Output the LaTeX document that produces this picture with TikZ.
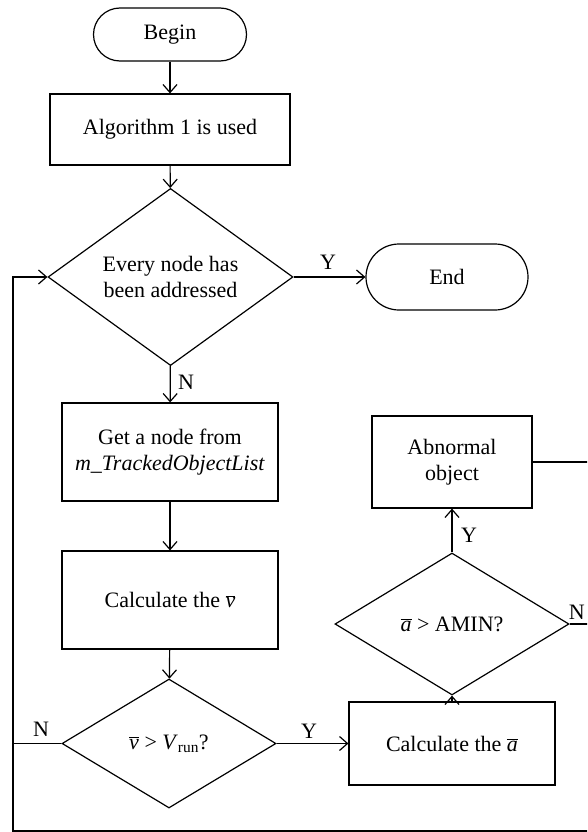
\documentclass[tikz,border=0pt]{standalone}
\usepackage{fontspec}
\setmainfont{Liberation Serif}
\usetikzlibrary{shapes.geometric,arrows.meta}
\tikzset{
  base/.style={draw, line width=1.2pt, inner sep=0pt, align=center, font=\fontsize{22}{26}\selectfont},
  term/.style={base, rectangle, rounded corners=#1},
  box/.style={base, rectangle},
  dec/.style={base, diamond},
  arr/.style={line width=1.2pt, -{Straight Barb[length=8pt,width=14pt,line width=1.2pt]}},
  ln/.style={line width=1.2pt},
  lab/.style={inner sep=0pt, font=\fontsize{22}{26}\selectfont}
}
\newcommand{\ovl}[1]{$\overline{\mbox{\textit{#1}}}$}
\begin{document}
\begin{tikzpicture}[x=1pt,y=-1pt]
\useasboundingbox (0,0) rectangle (587,832);
\clip (0,0) rectangle (587,832);
\node[term=26.5pt, minimum width=153pt, minimum height=53pt] (begin) at (170,34.5) {Begin};
\node[box, minimum width=240pt, minimum height=71pt] (alg) at (170,129.5) {Algorithm 1 is used};
\node[dec, minimum width=245pt, minimum height=144pt] (d1) at (170.5,277) {Every node has\\been addressed};
\node[term=33pt, minimum width=162pt, minimum height=66pt] (end) at (447,277) {End};
\node[box, minimum width=216pt, minimum height=98pt] (get) at (170,452) {Get a node from\\\textit{m\_TrackedObjectList}};
\node[box, minimum width=216pt, minimum height=98pt] (calcv) at (170,600) {Calculate the \ovl{v}};
\node[dec, minimum width=214pt, minimum height=129pt] (d2) at (169,743.5) {\ovl{v} > \textit{V}\textsubscript{run}?};
\node[box, minimum width=206pt, minimum height=83pt] (calca) at (452,743.5) {Calculate the \ovl{a}};
\node[dec, minimum width=234pt, minimum height=142pt] (d3) at (452,624) {\ovl{a} > AMIN?};
\node[box, minimum width=160pt, minimum height=92pt] (abn) at (452,462) {Abnormal\\object};

\coordinate (rtop) at (595,462);
\coordinate (rbot) at (595,831);
\coordinate (lbot) at (13,831);
\coordinate (rmid) at (595,624);

\draw[arr] (begin) -- (alg);
\draw[arr] (alg) -- (d1);
\draw[arr] (d1.east) -- (end.west);
\draw[arr] (d1) -- (get);
\draw[arr] (get) -- (calcv);
\draw[arr] (calcv) -- (d2);
\draw[arr] (d2.east) -- (calca.west);
\draw[arr] (calca.north) -- (d3.south);
\draw[arr] (d3.north) -- (abn.south);
\draw[ln] (d3.east) -- (rmid);
\draw[ln] (d2.west) -- (d2.west -| lbot);
\draw[arr] (abn.east) -- (rtop) -- (rbot) -- (lbot) |- (d1.west);

\node[lab] (ly1) at (328,262) {Y};
\node[lab] (ln1) at (186,382) {N};
\node[lab] (ly2) at (309,731) {Y};
\node[lab] (ln2) at (41,729) {N};
\node[lab] (ly3) at (469,535) {Y};
\node[lab, anchor=east] (ln3) at (585,612) {N};
\end{tikzpicture}
\end{document}
